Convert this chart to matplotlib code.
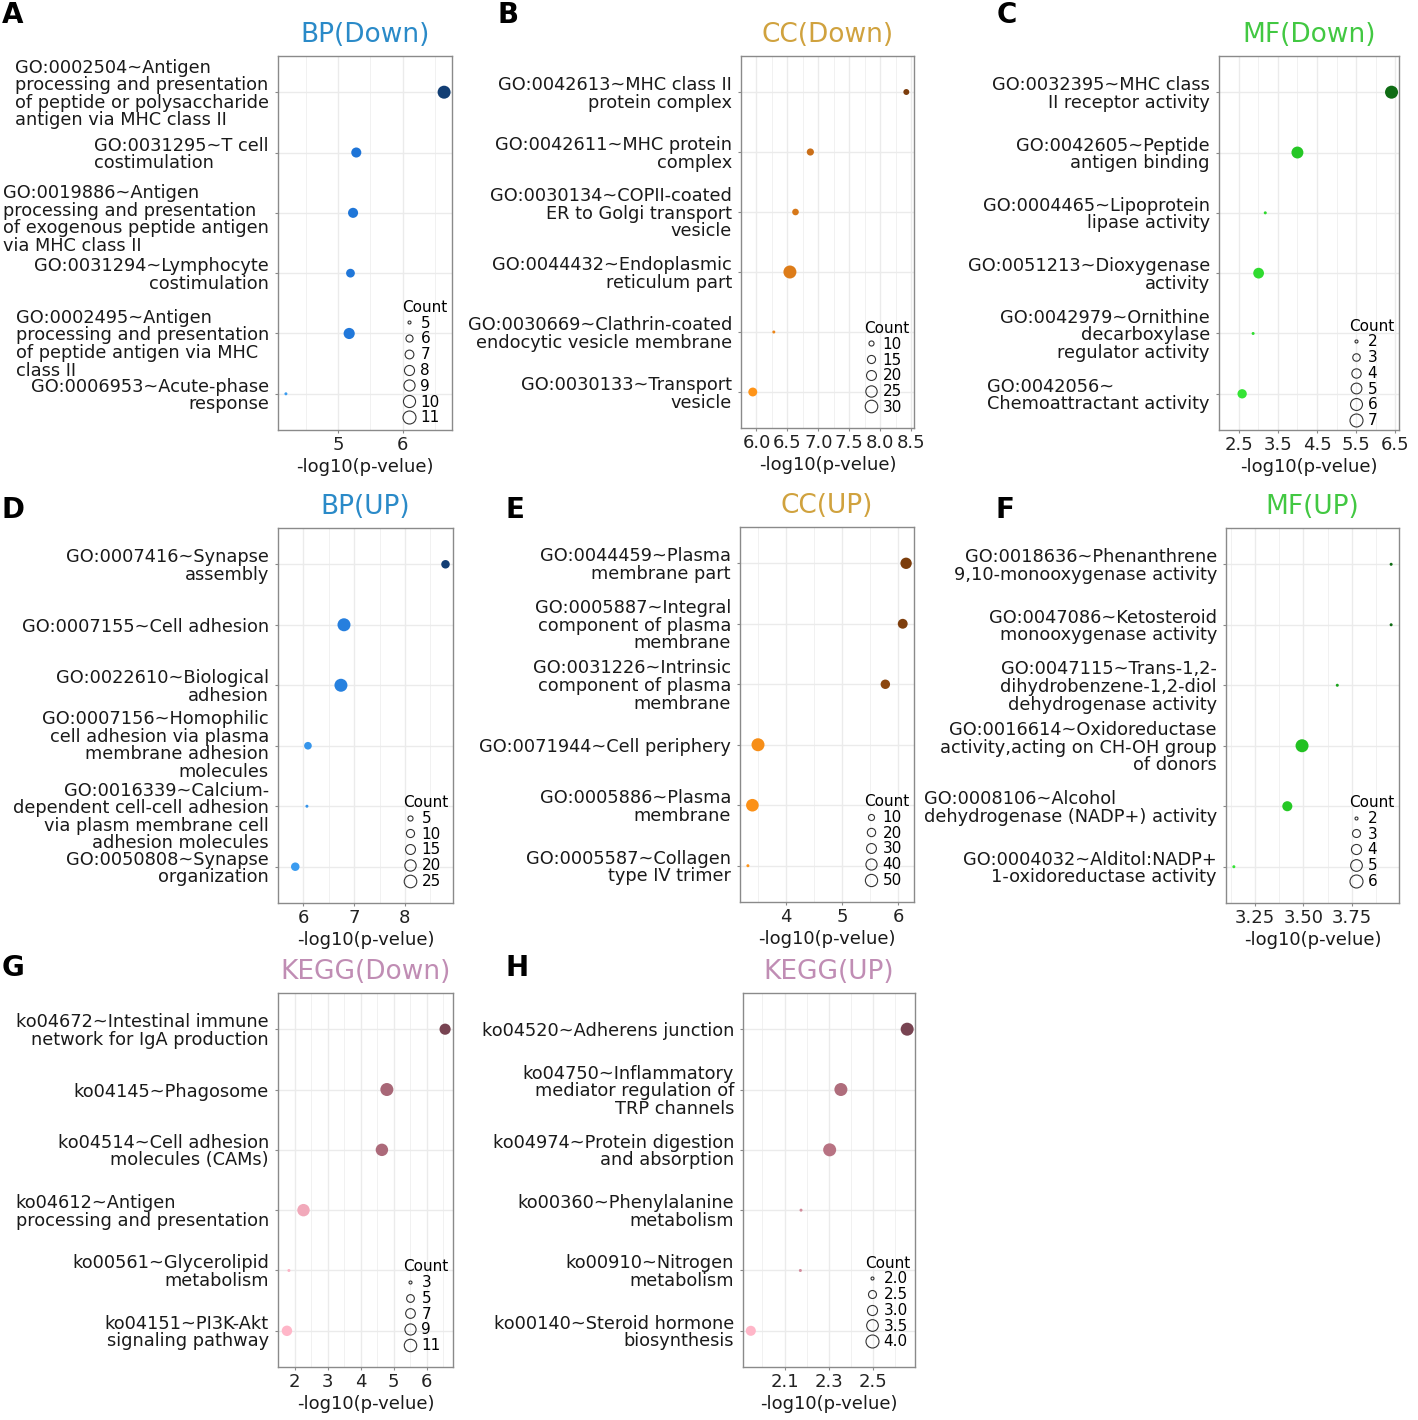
import numpy as np
import matplotlib.pyplot as plt
from matplotlib.colors import LinearSegmentedColormap
from matplotlib.lines import Line2D
from matplotlib.transforms import ScaledTranslation

plt.rcParams['font.family'] = 'DejaVu Sans'

# ---------------- data (top row first) ----------------
a_terms = ["GO:0002504~Antigen\nprocessing and presentation\nof peptide or polysaccharide\nantigen via MHC class II",
           "GO:0031295~T cell\ncostimulation",
           "GO:0019886~Antigen\nprocessing and presentation\nof exogenous peptide antigen\nvia MHC class II",
           "GO:0031294~Lymphocyte\ncostimulation",
           "GO:0002495~Antigen\nprocessing and presentation\nof peptide antigen via MHC\nclass II",
           "GO:0006953~Acute-phase\nresponse"]
a_logp = [6.64, 5.28, 5.23, 5.19, 5.17, 4.19]
a_count = [11, 8, 8, 7, 9, 5]
a_ticks = [5, 6]
a_breaks = [5, 6, 7, 8, 9, 10, 11]

b_terms = ["GO:0042613~MHC class II\nprotein complex",
           "GO:0042611~MHC protein\ncomplex",
           "GO:0030134~COPII-coated\nER to Golgi transport\nvesicle",
           "GO:0044432~Endoplasmic\nreticulum part",
           "GO:0030669~Clathrin-coated\nendocytic vesicle membrane",
           "GO:0030133~Transport\nvesicle"]
b_logp = [8.42, 6.87, 6.63, 6.54, 6.28, 5.94]
b_count = [11, 13, 12, 32, 9, 17]
b_ticks = [6.0, 6.5, 7.0, 7.5, 8.0, 8.5]
b_breaks = [10, 15, 20, 25, 30]

c_terms = ["GO:0032395~MHC class\nII receptor activity",
           "GO:0042605~Peptide\nantigen binding",
           "GO:0004465~Lipoprotein\nlipase activity",
           "GO:0051213~Dioxygenase\nactivity",
           "GO:0042979~Ornithine\ndecarboxylase\nregulator activity",
           "GO:0042056~\nChemoattractant activity"]
c_logp = [6.40, 4.00, 3.18, 3.01, 2.87, 2.59]
c_count = [7, 6, 2, 5, 2, 4]
c_ticks = [2.5, 3.5, 4.5, 5.5, 6.5]
c_breaks = [2, 3, 4, 5, 6, 7]

d_terms = ["GO:0007416~Synapse\nassembly",
           "GO:0007155~Cell adhesion",
           "GO:0022610~Biological\nadhesion",
           "GO:0007156~Homophilic\ncell adhesion via plasma\nmembrane adhesion\nmolecules",
           "GO:0016339~Calcium-\ndependent cell-cell adhesion\nvia plasm membrane cell\nadhesion molecules",
           "GO:0050808~Synapse\norganization"]
d_logp = [8.80, 6.80, 6.74, 6.09, 6.07, 5.84]
d_count = [11, 27, 27, 9, 4, 11]
d_ticks = [6, 7, 8]
d_breaks = [5, 10, 15, 20, 25]

e_terms = ["GO:0044459~Plasma\nmembrane part",
           "GO:0005887~Integral\ncomponent of plasma\nmembrane",
           "GO:0031226~Intrinsic\ncomponent of plasma\nmembrane",
           "GO:0071944~Cell periphery",
           "GO:0005886~Plasma\nmembrane",
           "GO:0005587~Collagen\ntype IV trimer"]
e_logp = [6.14, 6.08, 5.77, 3.50, 3.40, 3.32]
e_count = [42, 30, 27, 58, 54, 5]
e_ticks = [4, 5, 6]
e_breaks = [10, 20, 30, 40, 50]

f_terms = ["GO:0018636~Phenanthrene\n9,10-monooxygenase activity",
           "GO:0047086~Ketosteroid\nmonooxygenase activity",
           "GO:0047115~Trans-1,2-\ndihydrobenzene-1,2-diol\ndehydrogenase activity",
           "GO:0016614~Oxidoreductase\nactivity,acting on CH-OH group\nof donors",
           "GO:0008106~Alcohol\ndehydrogenase (NADP+) activity",
           "GO:0004032~Alditol:NADP+\n1-oxidoreductase activity"]
f_logp = [3.953, 3.953, 3.675, 3.493, 3.417, 3.141]
f_count = [2, 2, 2, 6, 4, 2]
f_ticks = [3.25, 3.50, 3.75]
f_breaks = [2, 3, 4, 5, 6]

g_terms = ["ko04672~Intestinal immune\nnetwork for IgA production",
           "ko04145~Phagosome",
           "ko04514~Cell adhesion\nmolecules (CAMs)",
           "ko04612~Antigen\nprocessing and presentation",
           "ko00561~Glycerolipid\nmetabolism",
           "ko04151~PI3K-Akt\nsignaling pathway"]
g_logp = [6.55, 4.79, 4.64, 2.27, 1.83, 1.77]
g_count = [9, 12, 11, 11, 3, 8]
g_ticks = [2, 3, 4, 5, 6]
g_breaks = [3, 5, 7, 9, 11]

h_terms = ["ko04520~Adherens junction",
           "ko04750~Inflammatory\nmediator regulation of\nTRP channels",
           "ko04974~Protein digestion\nand absorption",
           "ko00360~Phenylalanine\nmetabolism",
           "ko00910~Nitrogen\nmetabolism",
           "ko00140~Steroid hormone\nbiosynthesis"]
h_logp = [2.657, 2.356, 2.305, 2.175, 2.172, 1.947]
h_count = [4, 4, 4, 2, 2, 3]
h_ticks = [2.1, 2.3, 2.5]
h_breaks = [2.0, 2.5, 3.0, 3.5, 4.0]

# ---------------- styling ----------------
W, H = 1418, 1420
blue = LinearSegmentedColormap.from_list("bp", ["#3b9cf0", "#1a6fd4", "#123e74"])
orange = LinearSegmentedColormap.from_list("cc", ["#ff9418", "#b8621a", "#7c3d0c"])
green = LinearSegmentedColormap.from_list("mf", ["#35e435", "#1fbc1f", "#0f6c14"])
pink = LinearSegmentedColormap.from_list("kegg", ["#ffb6c8", "#b97484", "#784452"])

R6 = ["right"] * 6
Z6 = [0] * 6
# letter, title, title colour, cmap, axes box (l, t, r, b) px, letter pos, tick fmt,
# legend top (axes frac), label alignment per row, label shift down (px)
panels = [
    ("A", "BP(Down)", "#2a8ac8", blue, (278, 56, 452, 430), (2, 15), "{:g}", 0.36,
     a_terms, a_logp, a_count, a_ticks, a_breaks,
     ["left", "left", "left", "right", "left", "right"], [0, 0, 5, 0, 9, 0]),
    ("B", "CC(Down)", "#d0a23e", orange, (741, 56, 914, 428), (497, 15), "{:.1f}", 0.30,
     b_terms, b_logp, b_count, b_ticks, b_breaks, R6, Z6),
    ("C", "MF(Down)", "#42c842", green, (1219, 56, 1399, 430), (997, 15), "{:.1f}", 0.31,
     c_terms, c_logp, c_count, c_ticks, c_breaks, ["right"] * 5 + ["left"], Z6),
    ("D", "BP(UP)", "#2a8ac8", blue, (278, 528, 453, 903), (2, 510), "{:g}", 0.30,
     d_terms, d_logp, d_count, d_ticks, d_breaks, R6, [0, 0, 0, -2, 9, 0]),
    ("E", "CC(UP)", "#d0a23e", orange, (740, 527, 914, 902), (505, 510), "{:g}", 0.30,
     e_terms, e_logp, e_count, e_ticks, e_breaks, R6, Z6),
    ("F", "MF(UP)", "#42c842", green, (1226, 528, 1399, 903), (995, 510), "{:.2f}", 0.30,
     f_terms, f_logp, f_count, f_ticks, f_breaks, ["right"] * 4 + ["left", "right"], Z6),
    ("G", "KEGG(Down)", "#c08db4", pink, (278, 993, 453, 1367), (2, 968), "{:g}", 0.30,
     g_terms, g_logp, g_count, g_ticks, g_breaks, ["right"] * 3 + ["left", "right", "right"], Z6),
    ("H", "KEGG(UP)", "#c08db4", pink, (743, 993, 915, 1367), (505, 968), "{:.1f}", 0.31,
     h_terms, h_logp, h_count, h_ticks, h_breaks, R6, Z6),
]


def dot_px(c, cmin, cmax):
    frac = np.clip((np.asarray(c, float) - cmin) / (cmax - cmin), 0, 1)
    return 3.0 + 10.0 * np.sqrt(frac)


fig = plt.figure(figsize=(W / 100, H / 100), dpi=100)

for (letter, title, tcol, cmap, box, lpos, fmt, legtop,
     terms, logp, count, ticks, breaks, aligns, shifts) in panels:
    l, t, r, b = box
    ax = fig.add_axes([l / W, 1 - b / H, (r - l) / W, (b - t) / H])
    n = len(terms)
    ypos = np.arange(n, 0, -1)
    logp = np.asarray(logp)
    lo, hi = logp.min(), logp.max()
    pad = (hi - lo) * 0.05
    cmin, cmax = min(count), max(count)

    ax.scatter(logp, ypos, s=(dot_px(count, cmin, cmax) * 0.72) ** 2,
               c=cmap((logp - lo) / (hi - lo)), edgecolors="none", zorder=3)

    ax.set_xlim(lo - pad, hi + pad)
    ax.set_ylim(0.4, n + 0.6)
    ax.set_xticks(ticks)
    ax.set_xticklabels([fmt.format(v) for v in ticks])
    step = ticks[1] - ticks[0]
    minors = np.arange(ticks[0] - step / 2, hi + pad, step)
    ax.set_xticks(minors, minor=True)
    ax.set_yticks(ypos)
    ax.set_yticklabels(terms, fontsize=12.8, linespacing=0.97)

    ax.grid(True, which="major", color="#ebebeb", lw=1.0, zorder=0)
    ax.grid(True, which="minor", axis="x", color="#f1f1f1", lw=0.7, zorder=0)
    ax.set_axisbelow(True)
    for sp in ax.spines.values():
        sp.set_color("#8a8a8a")
        sp.set_linewidth(1.0)
    ax.tick_params(axis="both", which="major", length=2.5, color="#8a8a8a", width=0.8)
    ax.tick_params(axis="x", which="major", labelsize=13, labelcolor="#222222", pad=2)
    ax.tick_params(axis="y", which="major", pad=4)
    ax.tick_params(which="minor", length=0)

    for lab, al, sh in zip(ax.get_yticklabels(), aligns, shifts):
        lab.set_multialignment(al)
        lab.set_color("#1a1a1a")
        if sh:
            lab.set_transform(lab.get_transform() +
                              ScaledTranslation(0, -sh / 100, fig.dpi_scale_trans))

    ax.set_xlabel("-log10(p-velue)", fontsize=13, color="#1a1a1a", labelpad=3)
    ax.set_title(title, fontsize=19, color=tcol, pad=10)

    handles = [Line2D([], [], marker="o", linestyle="", markerfacecolor="none",
                      markeredgecolor="#333333", markeredgewidth=0.8,
                      markersize=float(dot_px(v, cmin, cmax)) * 0.72) for v in breaks]
    blabels = [("{:.1f}".format(v) if isinstance(v, float) else str(v)) for v in breaks]
    ax.legend(handles, blabels, title="Count", loc="upper right",
              bbox_to_anchor=(1.0, legtop), frameon=False, fontsize=11,
              title_fontsize=11, labelspacing=0.05, handlelength=0.9,
              handletextpad=0.3, borderpad=0.2, borderaxespad=0.1,
              alignment="left")

    fig.text(lpos[0] / W, 1 - lpos[1] / H, letter, fontsize=20, fontweight="bold",
             ha="left", va="center")

fig.savefig("out.png", dpi=100, facecolor="white")
